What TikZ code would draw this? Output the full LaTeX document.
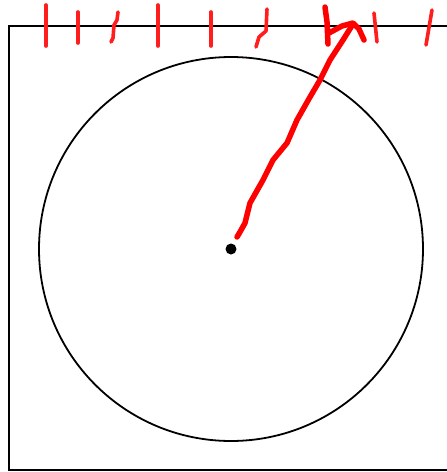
\documentclass[tikz,border=0pt]{standalone}
\usepackage{tikz}
\tikzset{
  frameline/.style={draw,line width=1.8pt},
  ringline/.style={draw,line width=1.8pt},
  inkmark/.style={draw=red!85!pink,line width=3.6pt,line cap=round,line join=round},
  inkbold/.style={draw=red,line width=5.5pt,line cap=round,line join=round},
  centredot/.style={circle,fill=black,inner sep=0pt,minimum size=11pt},
}

\begin{document}
\begin{tikzpicture}[x=1pt,y=-1pt]
\useasboundingbox (0,0) rectangle (447,472);
% Frame: open on the right
\draw[frameline] (447,26) -- (9,26) -- (9,470) -- (447,470);
% Circle and its centre
\draw[ringline] (231,249) circle (192);
\node[centredot] (ctr) at (231,249) {};
% Tick marks along the top edge
\foreach \x/\a/\b in {46/5/46, 78/12/43, 158/5/46, 211/12/46}
  \draw[inkmark] (\x,\a) -- (\x,\b);
\draw[inkmark] (118,12) -- (117,20) -- (114,25) -- (113,38) -- (111,42);
\draw[inkmark] (267,9) -- (266,31) -- (259,37) -- (256,47);
\draw[inkmark] (374,13) -- (377,42);
\draw[inkmark] (432,10) -- (426,45);
% Bold stroke from the centre up to the edge
\draw[inkbold] (237,237) -- (240,232) -- (245,223) -- (250,203) -- (263,180)
  -- (273,160) -- (287,143) -- (297,120) -- (310,97) -- (320,80) -- (330,60)
  -- (343,40) -- (353,24);
\draw[inkbold] (325,7) -- (327,22) -- (328,44);
\draw[inkbold] (329,33) -- (342,26) -- (353,23) -- (359,29) -- (364,40);
\end{tikzpicture}
\end{document}
